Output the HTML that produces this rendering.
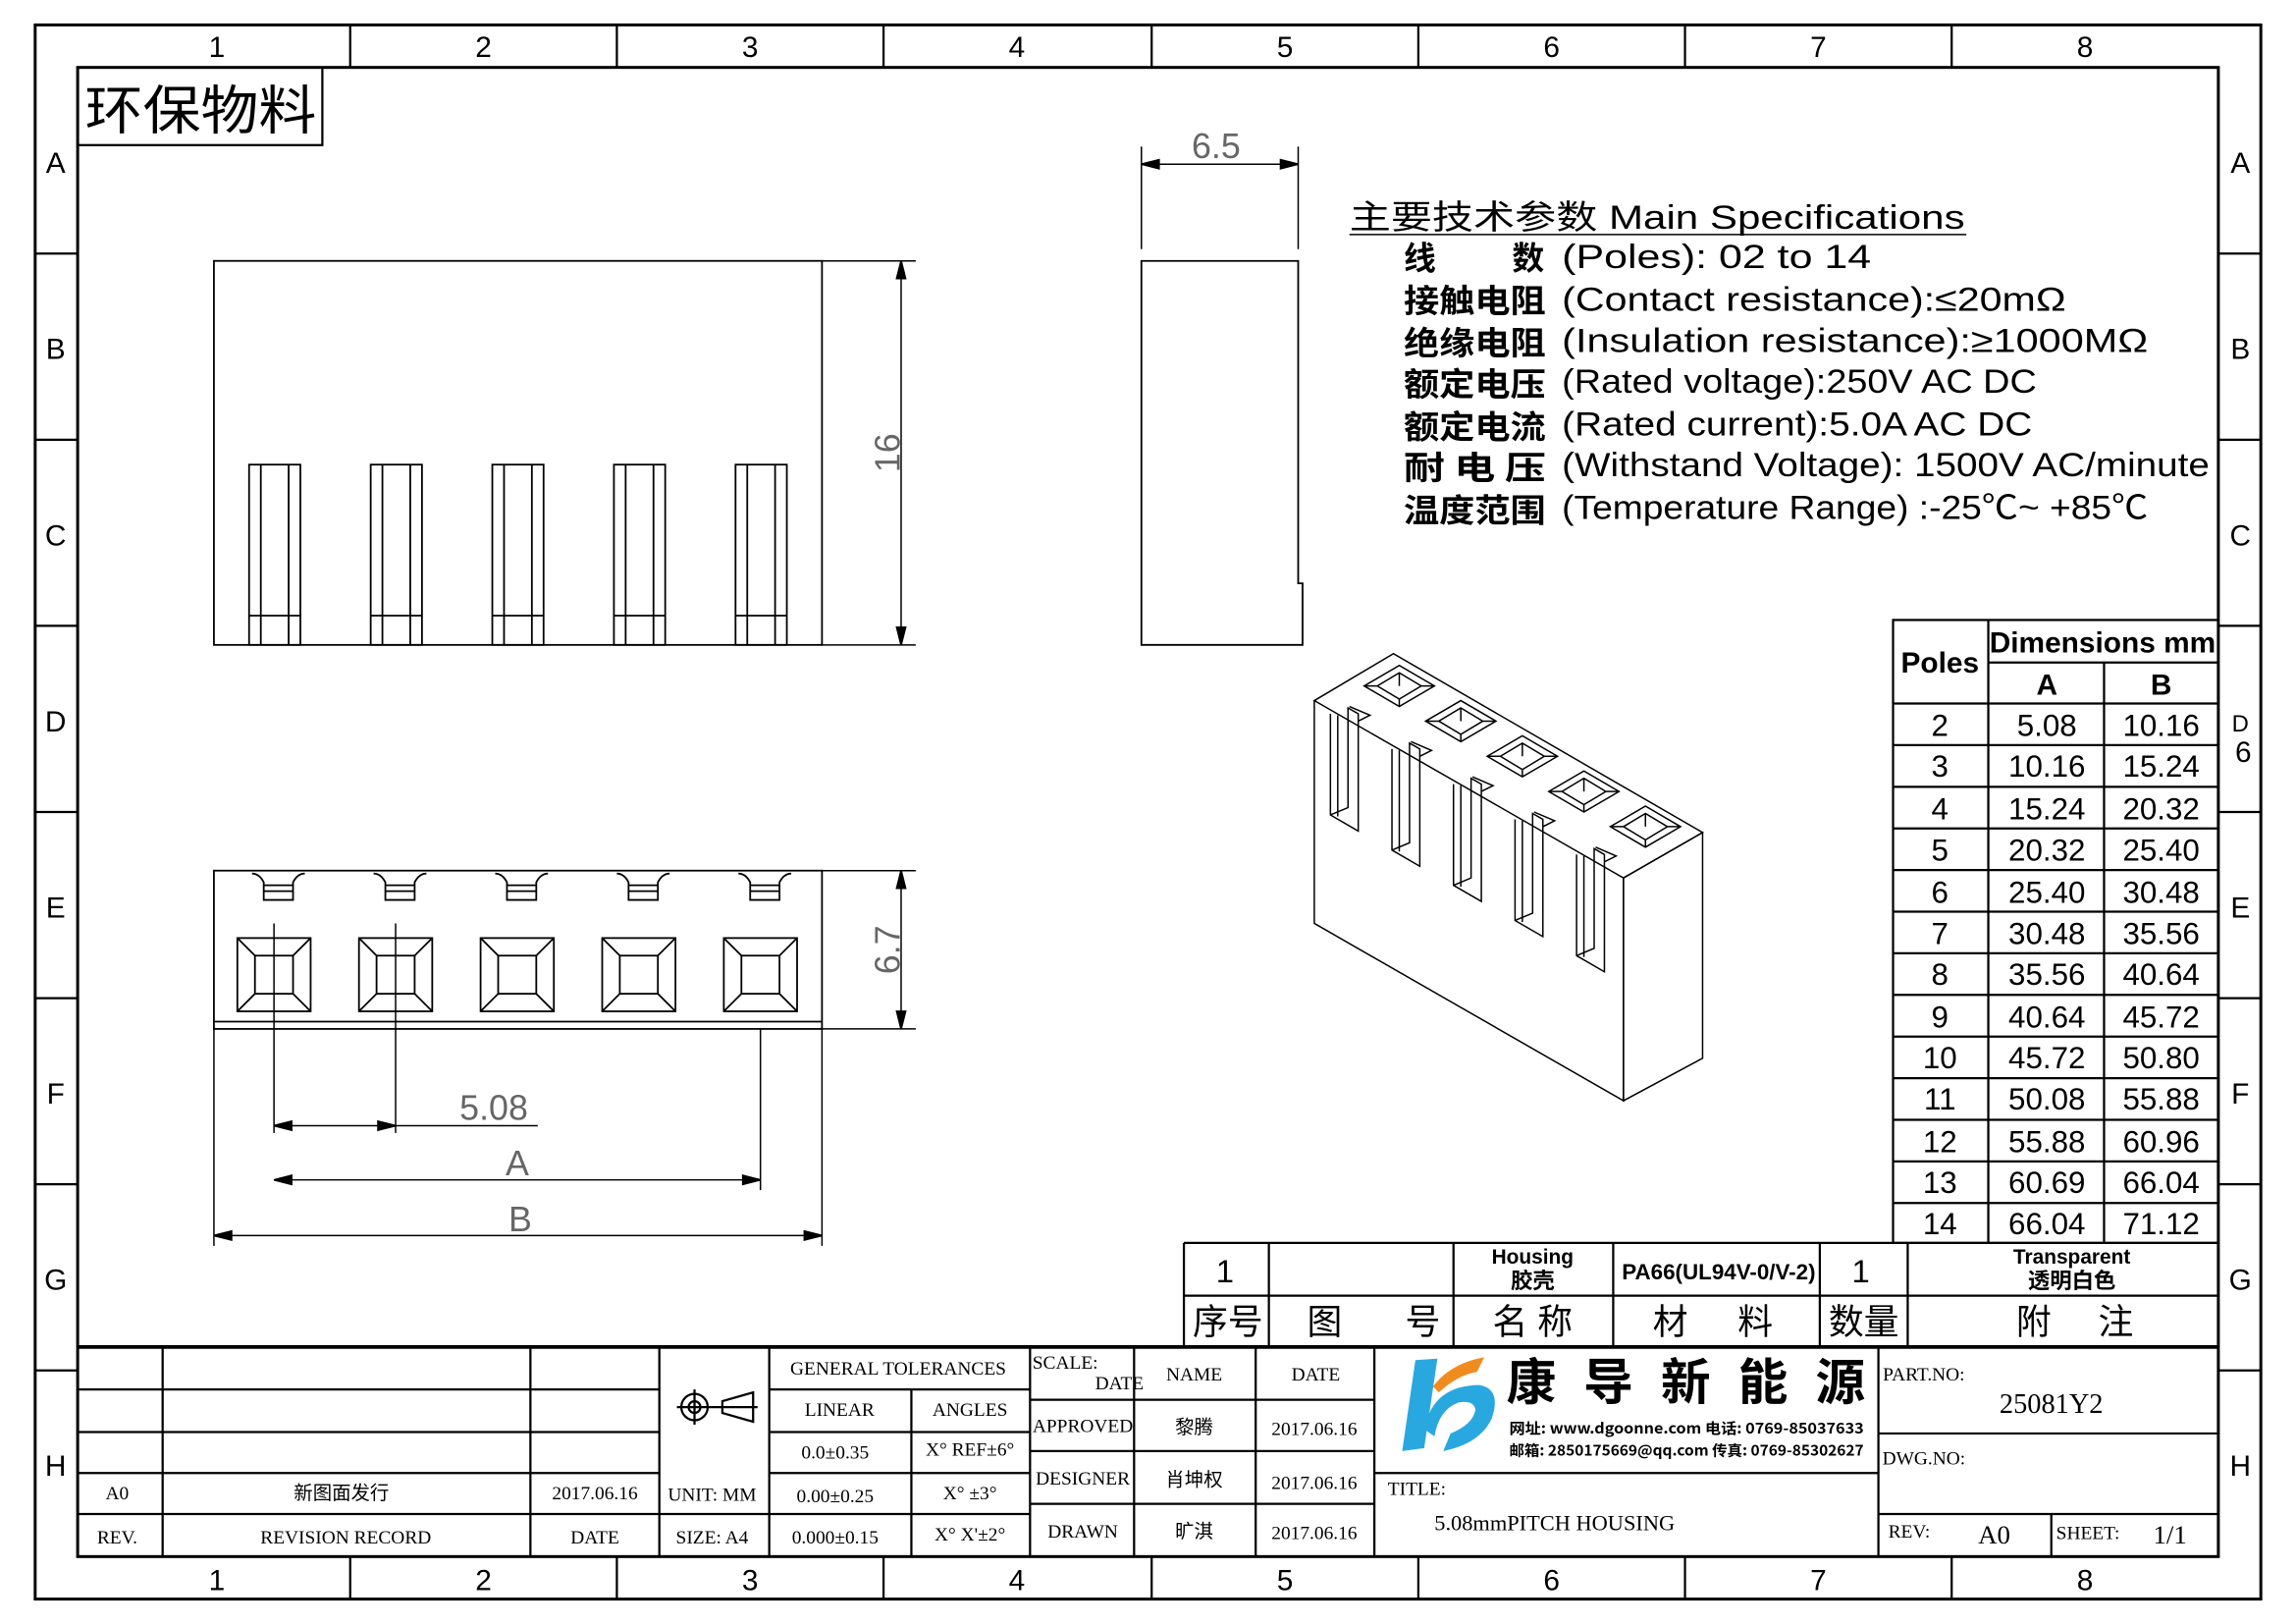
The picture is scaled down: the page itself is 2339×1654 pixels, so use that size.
<!DOCTYPE html>
<html><head><meta charset="utf-8"><style>html,body{margin:0;padding:0;background:#fff}svg{display:block}</style></head><body>
<svg xmlns="http://www.w3.org/2000/svg" width="2339" height="1654" viewBox="0 0 1567 1108" preserveAspectRatio="none" font-family="'Liberation Sans Narrow','Liberation Sans','Noto Sans CJK SC',sans-serif">
<rect width="1567" height="1108" fill="#fff"/>
<g fill="none" stroke="#000">
<rect x="24" y="17" width="1519" height="1074" stroke-width="2"/>
<rect x="53" y="46" width="1461" height="1016" stroke-width="2"/>
<path d="M239 17V46M421 17V46M603 17V46M786 17V46M968 17V46M1150 17V46M1332 17V46M239 1062V1091M421 1062V1091M603 1062V1091M786 1062V1091M968 1062V1091M1150 1062V1091M1332 1062V1091" stroke-width="1.5"/>
<path d="M24 173H53M24 300H53M24 427H53M24 554H53M24 681H53M24 808H53M24 935H53M1514 173H1543M1514 300H1543M1514 427H1543M1514 554H1543M1514 681H1543M1514 808H1543M1514 935H1543" stroke-width="1.5"/>
<rect x="53" y="46" width="167" height="53" stroke-width="1.5"/>
</g>
<g font-size="20" text-anchor="middle">
<text x="148" y="39">1</text><text x="330" y="39">2</text><text x="512" y="39">3</text><text x="694" y="39">4</text><text x="877" y="39">5</text><text x="1059" y="39">6</text><text x="1241" y="39">7</text><text x="1423" y="39">8</text>
<text x="148" y="1085">1</text><text x="330" y="1085">2</text><text x="512" y="1085">3</text><text x="694" y="1085">4</text><text x="877" y="1085">5</text><text x="1059" y="1085">6</text><text x="1241" y="1085">7</text><text x="1423" y="1085">8</text>
<text x="38" y="118">A</text><text x="38" y="245">B</text><text x="38" y="372">C</text><text x="38" y="499">D</text><text x="38" y="626">E</text><text x="38" y="753">F</text><text x="38" y="880">G</text><text x="38" y="1007">H</text>
<text x="1529" y="118">A</text><text x="1529" y="245">B</text><text x="1529" y="372">C</text><text x="1529" y="499" font-size="16">D</text><text x="1531" y="520">6</text><text x="1529" y="626">E</text><text x="1529" y="753">F</text><text x="1529" y="880">G</text><text x="1529" y="1007">H</text>
</g>
<text x="58" y="88" font-size="36" font-family="'Noto Sans CJK SC',sans-serif" textLength="158" lengthAdjust="spacingAndGlyphs">环保物料</text>

<g fill="none" stroke="#000" stroke-width="1.2">
<rect x="146" y="178" width="415" height="262"/>
<g id="slot"><rect x="170" y="317" width="35" height="123"/><path d="M178 317V440M197 317V440M170 420H205"/></g>
<use href="#slot" x="83"/><use href="#slot" x="166"/><use href="#slot" x="249"/><use href="#slot" x="332"/>
<path d="M561 178H625M561 440H625M615 178V440" stroke-width="1"/>
<path d="M615 178l-3 12h6zM615 440l-3-12h6z" fill="#000"/>
<path d="M779 178H886V398H889V440H779Z"/>
<path d="M779 100V170M886 100V170M779 112H886" stroke-width="1"/>
<path d="M779 112l12-3v6zM886 112l-12-3v6z" fill="#000"/>
<path d="M808 112H852" stroke-width="1"/>
<rect x="146" y="594" width="415" height="108"/>
<path d="M146 697H561"/>
<g id="bs"><path d="M172 596q5 0 8 6v12h20v-12q3-6 8-6M180 604h20M180 608h20"/><rect x="162" y="640" width="50" height="50"/><rect x="174" y="652" width="26" height="26"/><path d="M162 640l12 12M212 640l-12 12M162 690l12-12M212 690l-12-12"/></g>
<use href="#bs" x="83"/><use href="#bs" x="166"/><use href="#bs" x="249"/><use href="#bs" x="332"/>
<path d="M561 594H625M561 702H625M615 594V702" stroke-width="1"/>
<path d="M615 594l-3 12h6zM615 702l-3-12h6z" fill="#000"/>
<path d="M187 630V773M270 630V773M519 702V812M146 702V850M561 702V850" stroke-width="1"/>
<path d="M187 768H270M270 768H367M187 805H519M146 843H561" stroke-width="1"/>
<path d="M187 768l12-3v6zM270 768l-12-3v6zM187 805l12-3v6zM519 805l-12-3v6zM146 843l12-3v6zM561 843l-12-3v6z" fill="#000"/>
</g>
<g font-size="24" fill="#666" text-anchor="middle" font-family="'Liberation Sans Narrow','Liberation Sans',sans-serif">
<text x="830" y="108">6.5</text>
<text transform="translate(614 309) rotate(-90)">16</text>
<text transform="translate(614 648) rotate(-90)">6.7</text>
<text x="337" y="764">5.08</text>
<text x="353" y="802">A</text>
<text x="355" y="840">B</text>
</g>

<g fill="none" stroke="#000" stroke-width="1">
<path d="M897 478L951 446L1162 568L1108 599Z" fill="#fff"/>
<path d="M1108 599L1162 568V722L1108 751Z"/>
<path d="M897 478V630L1108 751V599"/>
<g id="dia"><path d="M931 468L955 454L979 468L955 482ZM940 468L955 459L970 468L955 477ZM955 459V468M955 482V477M931 468H940M979 468H970"/></g>
<use href="#dia" x="42" y="24"/><use href="#dia" x="84" y="48"/><use href="#dia" x="126" y="72"/><use href="#dia" x="168" y="96"/>
<g id="sl"><path d="M908 487V556L927 567V487L920 483V551L908 556M913 488V557M921 482L935 488L927 492"/></g>
<use href="#sl" x="42" y="24"/><use href="#sl" x="84" y="48"/><use href="#sl" x="126" y="72"/><use href="#sl" x="168" y="96"/>
</g>

<g font-size="23" font-family="'Liberation Sans Narrow','Liberation Sans','Noto Sans CJK SC',sans-serif">
<text x="921" y="156" textLength="420" lengthAdjust="spacingAndGlyphs">主要技术参数 Main Specifications</text>
<path d="M921 160H1342" stroke="#000"/>
<g font-family="'Noto Sans CJK SC',sans-serif" font-size="22" font-weight="bold">
<text x="958" y="184">线</text><text x="1032" y="184">数</text>
<text x="958" y="213" textLength="97" lengthAdjust="spacingAndGlyphs">接触电阻</text>
<text x="958" y="242" textLength="97" lengthAdjust="spacingAndGlyphs">绝缘电阻</text>
<text x="958" y="270" textLength="97" lengthAdjust="spacingAndGlyphs">额定电压</text>
<text x="958" y="299" textLength="97" lengthAdjust="spacingAndGlyphs">额定电流</text>
<text x="958" y="327" textLength="97" lengthAdjust="spacingAndGlyphs">耐 电 压</text>
<text x="958" y="356" textLength="97" lengthAdjust="spacingAndGlyphs">温度范围</text>
</g>
<text x="1066" y="183" textLength="211" lengthAdjust="spacingAndGlyphs">(Poles): 02 to 14</text>
<text x="1066" y="212" textLength="344" lengthAdjust="spacingAndGlyphs">(Contact resistance):≤20mΩ</text>
<text x="1066" y="240" textLength="400" lengthAdjust="spacingAndGlyphs">(Insulation resistance):≥1000MΩ</text>
<text x="1066" y="268" textLength="324" lengthAdjust="spacingAndGlyphs">(Rated voltage):250V AC DC</text>
<text x="1066" y="297" textLength="321" lengthAdjust="spacingAndGlyphs">(Rated current):5.0A AC DC</text>
<text x="1066" y="325" textLength="442" lengthAdjust="spacingAndGlyphs">(Withstand Voltage): 1500V AC/minute</text>
<text x="1066" y="354" textLength="400" lengthAdjust="spacingAndGlyphs">(Temperature Range) :-25℃~ +85℃</text>
</g>

<g fill="none" stroke="#000" stroke-width="1.5">
<rect x="1292" y="423" width="222" height="425"/>
<path d="M1357 423V848M1436 452V848M1357 452H1514M1292 480H1514M1292 508.4H1514M1292 536.8H1514M1292 565.2H1514M1292 593.6H1514M1292 622H1514M1292 650.4H1514M1292 678.8H1514M1292 707.2H1514M1292 735.6H1514M1292 764H1514M1292 792.4H1514M1292 820.8H1514"/>
</g>
<g font-size="20" font-weight="bold" text-anchor="middle" font-family="'Liberation Sans Narrow','Liberation Sans',sans-serif">
<text x="1324" y="459">Poles</text><text x="1435" y="445">Dimensions mm</text><text x="1397" y="474">A</text><text x="1475" y="474">B</text>
<g font-weight="normal" font-size="21">
<text x="1324" y="502">2</text><text x="1397" y="502">5.08</text><text x="1475" y="502">10.16</text>
<text x="1324" y="530">3</text><text x="1397" y="530">10.16</text><text x="1475" y="530">15.24</text>
<text x="1324" y="559">4</text><text x="1397" y="559">15.24</text><text x="1475" y="559">20.32</text>
<text x="1324" y="587">5</text><text x="1397" y="587">20.32</text><text x="1475" y="587">25.40</text>
<text x="1324" y="616">6</text><text x="1397" y="616">25.40</text><text x="1475" y="616">30.48</text>
<text x="1324" y="644">7</text><text x="1397" y="644">30.48</text><text x="1475" y="644">35.56</text>
<text x="1324" y="672">8</text><text x="1397" y="672">35.56</text><text x="1475" y="672">40.64</text>
<text x="1324" y="701">9</text><text x="1397" y="701">40.64</text><text x="1475" y="701">45.72</text>
<text x="1324" y="729">10</text><text x="1397" y="729">45.72</text><text x="1475" y="729">50.80</text>
<text x="1324" y="757">11</text><text x="1397" y="757">50.08</text><text x="1475" y="757">55.88</text>
<text x="1324" y="786">12</text><text x="1397" y="786">55.88</text><text x="1475" y="786">60.96</text>
<text x="1324" y="814">13</text><text x="1397" y="814">60.69</text><text x="1475" y="814">66.04</text>
<text x="1324" y="842">14</text><text x="1397" y="842">66.04</text><text x="1475" y="842">71.12</text>
</g></g>

<g fill="none" stroke="#000" stroke-width="1.5">
<path d="M808 848H1514M808 884H1514M808 848V919M866 848V919M992 848V919M1101 848V919M1242 848V919M1302 848V919"/>
<path d="M53 919H1514" stroke-width="2.5"/>
</g>
<g text-anchor="middle" font-family="'Liberation Sans Narrow','Liberation Sans','Noto Sans CJK SC',sans-serif">
<text x="836" y="875" font-size="22">1</text>
<text x="1046" y="862" font-size="14" font-weight="bold">Housing</text><text x="1046" y="879" font-size="15" font-weight="bold">胶壳</text>
<text x="1173" y="873" font-size="15" font-weight="bold">PA66(UL94V-0/V-2)</text>
<text x="1270" y="875" font-size="22">1</text>
<text x="1414" y="862" font-size="14" font-weight="bold">Transparent</text><text x="1414" y="879" font-size="15" font-weight="bold">透明白色</text>
<g font-size="24"><text x="838" y="910">序号</text><text x="904" y="910">图</text><text x="971" y="910">号</text><text x="1046" y="910">名 称</text><text x="1140" y="910">材</text><text x="1198" y="910">料</text><text x="1272" y="910">数量</text><text x="1388" y="910">附</text><text x="1444" y="910">注</text></g>
</g>

<g fill="none" stroke="#000" stroke-width="1.5">
<path d="M53 948H450M53 977H450M53 1005H450M53 1033H703M525 948H703M525 977H703M525 1005H703"/>
<path d="M111 919V1062M362 919V1062M450 919V1062M525 919V1062M622 948V1062M703 919V1062"/>
<path d="M703 955H938M703 990H938M703 1026H938M774 919V1062M857 919V1062M938 919V1062M938 1005H1282M1282 919V1062M1282 978H1514M1282 1033H1514M1400 1033V1062"/>
<circle cx="474" cy="960" r="9"/><circle cx="474" cy="960" r="4"/><path d="M462 960H517M474 948V972M493 956L514 950V970L493 964Z"/>
</g>
<g font-size="13" text-anchor="middle" font-family="'Liberation Serif','Noto Serif CJK SC',serif">
<text x="613" y="938">GENERAL TOLERANCES</text>
<text x="573" y="966">LINEAR</text><text x="662" y="966">ANGLES</text>
<text x="570" y="995">0.0±0.35</text><text x="662" y="993">X° REF±6°</text>
<text x="570" y="1025">0.00±0.25</text><text x="662" y="1023">X° ±3°</text>
<text x="570" y="1053">0.000±0.15</text><text x="662" y="1051">X° X'±2°</text>
<text x="80" y="1023">A0</text><text x="233" y="1023" font-family="'Noto Sans CJK SC',sans-serif">新图面发行</text><text x="406" y="1023">2017.06.16</text><text x="486" y="1024">UNIT: MM</text>
<text x="80" y="1053">REV.</text><text x="236" y="1053">REVISION RECORD</text><text x="406" y="1053">DATE</text><text x="486" y="1053">SIZE: A4</text>
<text x="727" y="934">SCALE:</text><text x="764" y="948">DATE</text><text x="815" y="942">NAME</text><text x="898" y="942">DATE</text>
<text x="739" y="977">APPROVED</text><text x="815" y="978" font-family="'Noto Sans CJK SC',sans-serif">黎腾</text><text x="897" y="979">2017.06.16</text>
<text x="739" y="1013">DESIGNER</text><text x="815" y="1014" font-family="'Noto Sans CJK SC',sans-serif">肖坤权</text><text x="897" y="1016">2017.06.16</text>
<text x="739" y="1049">DRAWN</text><text x="815" y="1049" font-family="'Noto Sans CJK SC',sans-serif">旷淇</text><text x="897" y="1050">2017.06.16</text>
<text x="967" y="1020">TITLE:</text><text x="1061" y="1044" font-size="15">5.08mmPITCH HOUSING</text>
<text x="1313" y="942">PART.NO:</text><text x="1400" y="964" font-size="19">25081Y2</text>
<text x="1313" y="999">DWG.NO:</text>
<text x="1303" y="1049">REV:</text><text x="1361" y="1053" font-size="18">A0</text>
<text x="1425" y="1050">SHEET:</text><text x="1481" y="1053" font-size="18">1/1</text>
</g>
<path d="M966 928L981 927L972 988L957 990Z" fill="#29a8e0"/>
<path d="M972 975Q978 945 1010 945Q1025 948 1018 968Q1010 985 985 990L990 978Q1005 972 1007 962Q1006 955 995 957Q982 962 979 980Z" fill="#29a8e0"/>
<path d="M978 946Q990 930 1013 926L1008 936Q995 938 982 950Z" fill="#f08c1e"/>
<g font-family="'Noto Sans CJK SC',sans-serif" font-weight="bold">
<text x="1028" y="955" font-size="34" textLength="245" lengthAdjust="spacing">康导新能源</text>
<text x="1030" y="978" font-size="10" textLength="242" lengthAdjust="spacingAndGlyphs">网址: www.dgoonne.com  电话: 0769-85037633</text>
<text x="1030" y="993" font-size="10" textLength="242" lengthAdjust="spacingAndGlyphs">邮箱: 2850175669@qq.com 传真: 0769-85302627</text>
</g>
</svg>
</body></html>
